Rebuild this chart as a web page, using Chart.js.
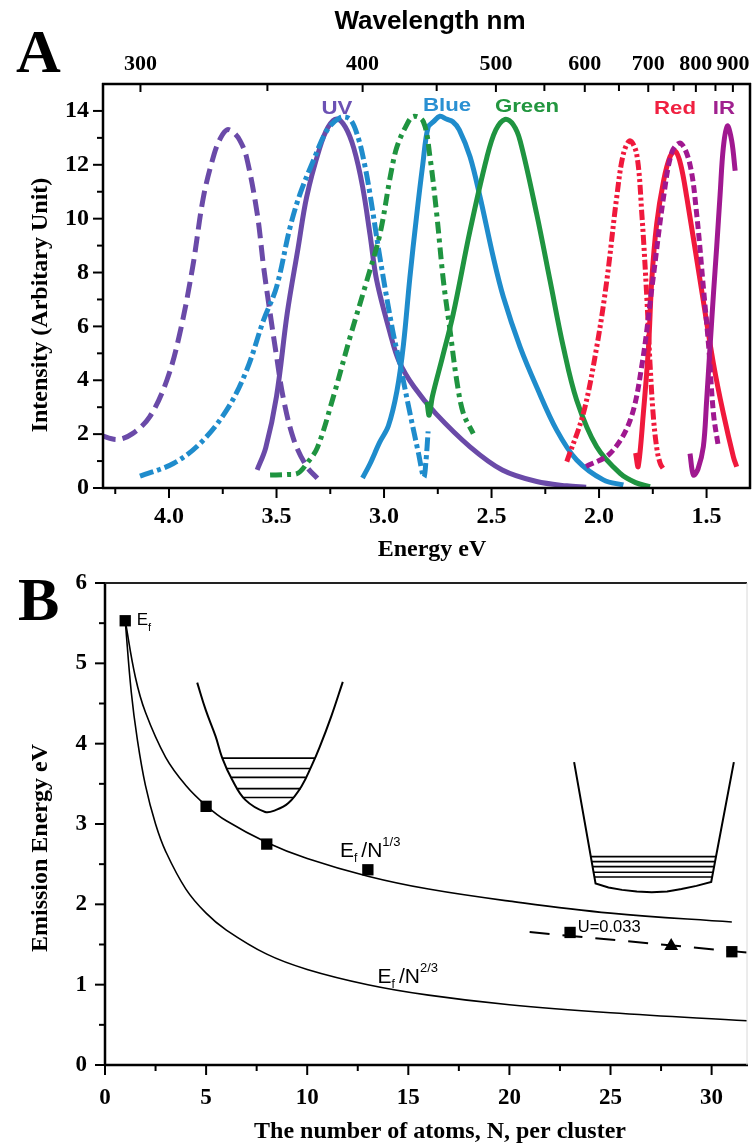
<!DOCTYPE html>
<html>
<head>
<meta charset="utf-8">
<script src="https://cdn.jsdelivr.net/npm/chart.js@4.4.1/dist/chart.umd.min.js"></script>
<style>
  html, body { margin: 0; padding: 0; background: #fff; }
  #wrap { position: relative; width: 755px; height: 1146px; overflow: hidden; background: #fff; }
  canvas { position: absolute; left: 0; }
  #cA { top: 0; }
  #cB { top: 565px; }
</style>
</head>
<body>
<div id="wrap">
  <canvas id="cA" width="755" height="565"></canvas>
  <canvas id="cB" width="755" height="581"></canvas>
</div>
<script>
// ---------- Panel A: excitation (dashed) and emission (solid) spectra ----------
// photon energy in eV, intensity in arbitrary units
const uvExcE = [4.32, 4.24, 4.17, 4.09, 4.01, 3.95, 3.89, 3.84, 3.79, 3.76, 3.73, 3.70, 3.67, 3.64, 3.59, 3.56, 3.53, 3.50, 3.47, 3.42, 3.36, 3.31];
const uvExcI = [1.96, 1.80, 2.02, 2.64, 4.00, 5.73, 8.20, 10.8, 12.4, 13.0, 13.3, 13.2, 12.9, 12.3, 10.2, 8.2, 6.5, 4.9, 3.4, 1.8, 0.8, 0.36];
const uvEmE = [3.59, 3.55, 3.50, 3.45, 3.40, 3.36, 3.30, 3.26, 3.22, 3.18, 3.14, 3.10, 3.065, 3.034, 2.97, 2.93, 2.86, 2.76, 2.60, 2.45, 2.29, 2.15, 2.06];
const uvEmI = [0.67, 1.5, 3.4, 6.5, 8.9, 10.8, 12.6, 13.4, 13.7, 13.4, 12.6, 11.2, 9.4, 7.7, 5.7, 4.7, 3.75, 2.77, 1.53, 0.67, 0.24, 0.08, 0.03];

const blueExcE = [4.135, 3.98, 3.856, 3.732, 3.639, 3.561, 3.50, 3.437, 3.391, 3.329, 3.267, 3.205, 3.158, 3.12, 3.09, 3.065, 3.02, 2.96, 2.926, 2.88, 2.84, 2.815, 2.805, 2.795];
const blueExcI = [0.44, 0.91, 1.65, 2.89, 4.37, 6.22, 7.46, 9.68, 10.91, 12.15, 13.26, 13.75, 13.69, 13.0, 12.0, 10.9, 8.6, 5.85, 4.6, 2.8, 1.3, 0.4, 1.0, 2.1];
const blueEmE = [3.10, 3.065, 3.02, 2.98, 2.94, 2.91, 2.88, 2.85, 2.82, 2.795, 2.77, 2.74, 2.71, 2.68, 2.65, 2.60, 2.553, 2.492, 2.445, 2.367, 2.29, 2.197, 2.104, 1.98, 1.887];
const blueEmI = [0.37, 0.9, 1.7, 2.3, 3.6, 5.3, 7.8, 10.0, 12.0, 13.4, 13.6, 13.8, 13.7, 13.6, 13.3, 12.3, 10.79, 8.57, 7.09, 5.23, 3.75, 2.15, 1.04, 0.30, 0.11];

const greenExcE = [3.53, 3.45, 3.40, 3.36, 3.31, 3.236, 3.158, 3.08, 3.019, 2.97, 2.941, 2.90, 2.864, 2.817, 2.786, 2.755, 2.724, 2.693, 2.662, 2.631, 2.585];
const greenExcI = [0.48, 0.5, 0.55, 0.9, 1.5, 3.38, 5.6, 7.7, 9.43, 11.6, 12.64, 13.4, 13.8, 13.6, 12.27, 10.17, 7.7, 5.85, 4.0, 2.77, 2.02];
const greenEmE = [2.80, 2.79, 2.775, 2.73, 2.678, 2.60, 2.522, 2.48, 2.437, 2.40, 2.367, 2.29, 2.228, 2.166, 2.104, 2.011, 1.902, 1.83, 1.763];
const greenEmI = [3.2, 2.7, 3.4, 4.8, 6.47, 9.56, 12.27, 13.3, 13.69, 13.5, 12.89, 10.17, 7.7, 5.23, 3.26, 1.53, 0.54, 0.2, 0.05];

const redExcE = [2.15, 2.073, 2.011, 1.964, 1.918, 1.887, 1.856, 1.825, 1.801, 1.778, 1.763, 1.747, 1.73, 1.715, 1.70];
const redExcI = [0.98, 2.77, 5.23, 7.7, 10.79, 12.4, 12.89, 12.4, 10.17, 7.09, 4.62, 2.6, 1.4, 0.9, 0.7];
const redEmE = [1.83, 1.818, 1.794, 1.77, 1.755, 1.732, 1.70, 1.67, 1.645, 1.62, 1.592, 1.53, 1.468, 1.422, 1.375, 1.36];
const redEmI = [1.3, 0.8, 2.77, 5.23, 7.7, 9.8, 11.4, 12.3, 12.5, 12.0, 10.79, 7.7, 4.62, 2.77, 1.15, 0.79];

const irExcE = [2.06, 1.949, 1.856, 1.80, 1.75, 1.70, 1.66, 1.62, 1.577, 1.546, 1.515, 1.49, 1.468, 1.445];
const irExcI = [0.8, 1.28, 2.5, 4.6, 7.7, 10.8, 12.5, 12.8, 12.0, 10.17, 7.46, 5.23, 2.77, 1.53];
const irEmE = [1.577, 1.561, 1.54, 1.515, 1.50, 1.484, 1.468, 1.453, 1.437, 1.422, 1.403, 1.383, 1.367];
const irEmI = [1.28, 0.48, 0.7, 1.53, 3.2, 5.23, 7.2, 8.94, 10.9, 12.64, 13.44, 12.89, 11.78];

const seriesNames = ['UV', 'Blue', 'Green', 'Red', 'IR'];

// axis ticks, panel A
const energyMajor = [4.0, 3.5, 3.0, 2.5, 2.0, 1.5];
const energyMinor = [4.25, 3.75, 3.25, 2.75, 2.25, 1.75];
const wavelengthMajor = [300, 400, 500, 600, 700, 800, 900];
const wavelengthMinor = [350, 450, 550, 650, 750, 850];
const intensityMajor = [0, 2, 4, 6, 8, 10, 12, 14];
const intensityMinor = [1, 3, 5, 7, 9, 11, 13];

// ---------- Panel B: emission energy vs cluster size ----------
const squareN = [1, 5, 8, 13, 23, 31];
const squareE = [5.53, 3.22, 2.75, 2.43, 1.65, 1.41];
const triangleN = [28];
const triangleE = [1.48];
const thirdN = [1, 1.5, 2, 3, 4, 5, 6, 8, 10, 13, 16, 20, 25, 31];
const thirdE = [5.53, 4.83, 4.39, 3.83, 3.48, 3.23, 3.04, 2.77, 2.57, 2.35, 2.19, 2.04, 1.89, 1.78];
const twoThirdN = [1, 1.3, 1.6, 2, 2.5, 3, 4, 5, 6, 8, 10, 13, 16, 20, 25, 31.75];
const twoThirdE = [5.53, 4.64, 4.05, 3.48, 3.0, 2.66, 2.19, 1.89, 1.68, 1.38, 1.19, 1.00, 0.87, 0.75, 0.65, 0.55];
const fitN = [21, 31.75];
const fitE = [1.655, 1.40];

// level-diagram sketches (harmonic well and flat-bottom well)
const harmonicN = [4.56, 4.98, 5.47, 5.80, 6.29, 6.94, 7.92, 8.41, 9.07, 9.72, 10.21, 10.62, 11.19, 11.76];
const harmonicE = [4.76, 4.42, 4.09, 3.82, 3.55, 3.30, 3.15, 3.17, 3.26, 3.47, 3.72, 3.96, 4.34, 4.77];
const harmonicLevelE = [3.82, 3.69, 3.58, 3.44, 3.33];
const harmonicLevelLo = [5.80, 6.03, 6.24, 6.55, 6.85];
const harmonicLevelHi = [10.38, 10.15, 9.93, 9.68, 9.30];
const boxN = [23.2, 24.26, 24.9, 25.57, 26.3, 27.04, 27.8, 28.51, 29.25, 29.98, 31.1];
const boxE = [3.77, 2.26, 2.21, 2.18, 2.16, 2.15, 2.16, 2.19, 2.23, 2.28, 3.77];
const boxLevelE = [2.594, 2.532, 2.47, 2.40, 2.34];
const boxLevelLo = [24.03, 24.07, 24.11, 24.16, 24.2];
const boxLevelHi = [30.22, 30.17, 30.12, 30.07, 30.03];

// axis ticks, panel B
const atomsMajor = [0, 5, 10, 15, 20, 25, 30];
const atomsMinor = [2.5, 7.5, 12.5, 17.5, 22.5, 27.5];
const emissionMajor = [0, 1, 2, 3, 4, 5, 6];
const emissionMinor = [0.5, 1.5, 2.5, 3.5, 4.5, 5.5];

// ---------- helpers ----------
const HC = 1239.84; // eV·nm
const SERIF = '"Liberation Serif", "Times New Roman", serif';
const SANS = '"Liberation Sans", Arial, sans-serif';

const pts = (xs, ys) => xs.map((x, i) => ({ x, y: ys[i] }));
const tickSet = (major, minor) =>
  major.map(v => ({ value: v, major: true }))
    .concat(minor.map(v => ({ value: v, major: false })))
    .sort((a, b) => a.value - b.value);

function drawText(ctx, s, x, y, opt) {
  ctx.save();
  ctx.translate(x, y);
  if (opt.rot) ctx.rotate(opt.rot);
  if (opt.sx) ctx.scale(opt.sx, 1);
  ctx.font = opt.font;
  ctx.fillStyle = opt.color || '#000';
  ctx.textAlign = opt.align || 'left';
  ctx.textBaseline = opt.baseline || 'alphabetic';
  ctx.fillText(s, 0, 0);
  ctx.restore();
}

// text made of runs with sub/superscripts, left-aligned at baseline
function drawRuns(ctx, runs, x, y) {
  ctx.save();
  ctx.fillStyle = '#000';
  ctx.textBaseline = 'alphabetic';
  ctx.textAlign = 'left';
  let cx = x;
  for (const r of runs) {
    ctx.font = r.size + 'px ' + SANS;
    ctx.fillText(r.t, cx, y + (r.dy || 0));
    cx += ctx.measureText(r.t).width + (r.gap || 0);
  }
  ctx.restore();
}

// axis frame and tick marks
function framePlugin(spec) {
  return {
    id: 'frame',
    afterDatasetsDraw(chart) {
      const ctx = chart.ctx, a = chart.chartArea;
      ctx.save();
      ctx.strokeStyle = '#000';
      ctx.lineCap = 'butt';
      for (const t of spec.ticks) {
        const sc = chart.scales[t.id];
        ctx.lineWidth = t.width;
        for (const tk of sc.ticks) {
          const len = tk.major ? t.major : t.minor;
          const p = sc.getPixelForValue(tk.value);
          ctx.beginPath();
          if (t.side === 'left') { ctx.moveTo(a.left, p); ctx.lineTo(a.left - len, p); }
          else if (t.side === 'bottom') { ctx.moveTo(p, a.bottom); ctx.lineTo(p, a.bottom + len); }
          else { ctx.moveTo(p, a.top); ctx.lineTo(p, a.top + len); }
          ctx.stroke();
        }
      }
      for (const b of spec.borders) {
        ctx.strokeStyle = b.color;
        ctx.lineWidth = b.width;
        ctx.beginPath();
        if (b.side === 'left') { ctx.moveTo(a.left, a.top - b.ext); ctx.lineTo(a.left, a.bottom + b.ext); }
        if (b.side === 'right') { ctx.moveTo(a.right, a.top - b.ext); ctx.lineTo(a.right, a.bottom + b.ext); }
        if (b.side === 'top') { ctx.moveTo(a.left - b.ext, a.top); ctx.lineTo(a.right + b.ext, a.top); }
        if (b.side === 'bottom') { ctx.moveTo(a.left - b.ext, a.bottom); ctx.lineTo(a.right + b.ext, a.bottom); }
        ctx.stroke();
      }
      ctx.restore();
    }
  };
}

function fixSize(prop, size) {
  return s => {
    s[prop] = size;
    s.paddingLeft = 0; s.paddingRight = 0; s.paddingTop = 0; s.paddingBottom = 0;
  };
}

const hidden = { display: false, drawTicks: false };
const noBorder = { display: false };

Chart.defaults.font.family = SERIF;

// ---------- Panel A chart ----------
const PURPLE = '#6a4aa8', BLUE = '#1f8ccc', GREEN = '#1f9440', RED = '#f0193c', MAGENTA = '#a01890';

function spectrum(xs, ys, color, dash) {
  return {
    data: pts(xs, ys), borderColor: color, borderWidth: 5, borderDash: dash || [],
    pointRadius: 0, tension: 0.35, fill: false, borderCapStyle: 'butt'
  };
}

const labelSpotsA = [
  { e: 3.219, i: 13.9, color: '#6c52b4' },
  { e: 2.707, i: 14.0, color: '#2a90d2' },
  { e: 2.335, i: 13.97, color: '#22963f' },
  { e: 1.647, i: 13.88, color: '#f02040' },
  { e: 1.419, i: 13.9, color: '#a0208f' }
];

const textPluginA = {
  id: 'textA',
  afterDraw(chart) {
    const ctx = chart.ctx, xs = chart.scales.x, ys = chart.scales.y;
    drawText(ctx, 'A', 16, 72, { font: 'bold 62px ' + SERIF });
    drawText(ctx, 'Wavelength nm', 430, 29, { font: 'bold 26px ' + SANS, align: 'center' });
    drawText(ctx, 'Intensity (Arbitary Unit)', 47, 305, { font: 'bold 24px ' + SERIF, align: 'center', rot: -Math.PI / 2 });
    drawText(ctx, 'Energy eV', 432, 556, { font: 'bold 24px ' + SERIF, align: 'center' });
    seriesNames.forEach((name, k) => {
      const s = labelSpotsA[k];
      drawText(ctx, name, xs.getPixelForValue(s.e), ys.getPixelForValue(s.i),
        { font: 'bold 19px ' + SANS, align: 'center', color: s.color, sx: 1.17 });
    });
  }
};

new Chart(document.getElementById('cA'), {
  type: 'line',
  data: {
    datasets: [
      spectrum(irEmE, irEmI, MAGENTA),
      spectrum(irExcE, irExcI, MAGENTA, [8, 4]),
      spectrum(redEmE, redEmI, RED),
      spectrum(redExcE, redExcI, RED, [10, 3, 3, 3, 3, 3]),
      spectrum(greenEmE, greenEmI, GREEN),
      spectrum(greenExcE, greenExcI, GREEN, [12, 5, 4, 5]),
      spectrum(blueEmE, blueEmI, BLUE),
      spectrum(blueExcE, blueExcI, BLUE, [14, 4, 4, 4]),
      spectrum(uvEmE, uvEmI, PURPLE),
      spectrum(uvExcE, uvExcI, PURPLE, [16, 7])
    ]
  },
  options: {
    responsive: false, animation: false, events: [],
    layout: { padding: { left: 0, right: 5, top: 0, bottom: 0 } },
    plugins: { legend: { display: false }, tooltip: { enabled: false }, title: { display: false } },
    scales: {
      x: {
        type: 'linear', position: 'bottom', min: 1.298, max: 4.307, reverse: true,
        grid: hidden, border: noBorder,
        afterBuildTicks: s => { s.ticks = tickSet(energyMajor, energyMinor); },
        afterFit: fixSize('height', 77),
        ticks: {
          autoSkip: false, maxRotation: 0, padding: 14, color: '#000',
          font: { family: SERIF, size: 24, weight: 'bold' },
          callback: (v, i, t) => t[i].major ? v.toFixed(1) : ''
        }
      },
      xTop: {
        type: 'linear', position: 'top', min: 1.298, max: 4.307, reverse: true,
        grid: hidden, border: noBorder,
        afterBuildTicks: s => {
          s.ticks = wavelengthMajor.map(l => ({ value: HC / l, major: true, nm: l }))
            .concat(wavelengthMinor.map(l => ({ value: HC / l, major: false, nm: l })));
        },
        afterFit: fixSize('height', 84),
        ticks: {
          autoSkip: false, maxRotation: 0, padding: 6, color: '#000',
          font: { family: SERIF, size: 22, weight: 'bold' },
          callback: (v, i, t) => t[i].major ? String(t[i].nm) : ''
        }
      },
      y: {
        type: 'linear', position: 'left', min: 0, max: 15,
        grid: hidden, border: noBorder,
        afterBuildTicks: s => { s.ticks = tickSet(intensityMajor, intensityMinor); },
        afterFit: fixSize('width', 103),
        ticks: {
          autoSkip: false, padding: 14, color: '#000',
          font: { family: SERIF, size: 24, weight: 'bold' },
          callback: (v, i, t) => t[i].major ? String(v) : ''
        }
      }
    }
  },
  plugins: [
    framePlugin({
      ticks: [
        { id: 'y', side: 'left', major: 10, minor: 6, width: 2 },
        { id: 'x', side: 'bottom', major: 10, minor: 6, width: 2 },
        { id: 'xTop', side: 'top', major: 8, minor: 7, width: 2 }
      ],
      borders: [
        { side: 'left', width: 2.5, color: '#000', ext: 1 },
        { side: 'right', width: 2.5, color: '#000', ext: 1 },
        { side: 'top', width: 2.5, color: '#000', ext: 1 },
        { side: 'bottom', width: 2.5, color: '#000', ext: 1 }
      ]
    }),
    textPluginA
  ]
});

// ---------- Panel B chart ----------
function sketchLine(xs, ys, width, tension) {
  return { data: pts(xs, ys), borderColor: '#000', borderWidth: width, pointRadius: 0, tension: tension, fill: false };
}

const levelSets = [];
harmonicLevelE.forEach((e, k) => levelSets.push(sketchLine([harmonicLevelLo[k], harmonicLevelHi[k]], [e, e], 1.6, 0)));
boxLevelE.forEach((e, k) => levelSets.push(sketchLine([boxLevelLo[k], boxLevelHi[k]], [e, e], 1.6, 0)));

const textPluginB = {
  id: 'textB',
  afterDraw(chart) {
    const ctx = chart.ctx, xs = chart.scales.x, ys = chart.scales.y;
    const px = n => xs.getPixelForValue(n), py = e => ys.getPixelForValue(e);
    drawText(ctx, 'B', 18, 55, { font: 'bold 62px ' + SERIF });
    drawText(ctx, 'Emission Energy eV', 47, 283, { font: 'bold 24px ' + SERIF, align: 'center', rot: -Math.PI / 2 });
    drawText(ctx, 'The number of atoms, N, per cluster', 440, 573, { font: 'bold 24px ' + SERIF, align: 'center' });
    drawRuns(ctx, [{ t: 'E', size: 17 }, { t: 'f', size: 11, dy: 6 }], px(1.57), py(5.48));
    drawRuns(ctx, [{ t: 'E', size: 21 }, { t: 'f', size: 12, dy: 5, gap: 4 }, { t: '/N', size: 21 }, { t: '1/3', size: 13, dy: -11 }], px(11.62), py(2.59));
    drawRuns(ctx, [{ t: 'E', size: 21 }, { t: 'f', size: 12, dy: 5, gap: 4 }, { t: '/N', size: 21 }, { t: '2/3', size: 13, dy: -11 }], px(13.48), py(1.02));
    drawRuns(ctx, [{ t: 'U=0.033', size: 16.5 }], px(23.38), py(1.656));
  }
};

new Chart(document.getElementById('cB'), {
  type: 'line',
  data: {
    datasets: [
      { data: pts(squareN, squareE), showLine: false, pointStyle: 'rect', pointRadius: 8, backgroundColor: '#000', borderColor: '#000', borderWidth: 0 },
      { data: pts(triangleN, triangleE), showLine: false, pointStyle: 'triangle', pointRadius: 8, backgroundColor: '#000', borderColor: '#000', borderWidth: 0 },
      { data: pts(fitN, fitE), borderColor: '#000', borderWidth: 2, borderDash: [20, 13], pointRadius: 0, tension: 0, fill: false },
      sketchLine(thirdN, thirdE, 1.6, 0.4),
      sketchLine(twoThirdN, twoThirdE, 1.6, 0.4),
      sketchLine(harmonicN, harmonicE, 2, 0.4),
      sketchLine(boxN, boxE, 2, 0),
      ...levelSets
    ]
  },
  options: {
    responsive: false, animation: false, events: [],
    layout: { padding: { left: 0, right: 2, top: 18, bottom: 0 } },
    plugins: { legend: { display: false }, tooltip: { enabled: false }, title: { display: false } },
    scales: {
      x: {
        type: 'linear', position: 'bottom', min: 0, max: 31.75,
        grid: hidden, border: noBorder,
        afterBuildTicks: s => { s.ticks = tickSet(atomsMajor, atomsMinor); },
        afterFit: fixSize('height', 81),
        ticks: {
          autoSkip: false, maxRotation: 0, padding: 19, color: '#000',
          font: { family: SERIF, size: 23, weight: 'bold' },
          callback: (v, i, t) => t[i].major ? String(v) : ''
        }
      },
      y: {
        type: 'linear', position: 'left', min: 0, max: 6,
        grid: hidden, border: noBorder,
        afterBuildTicks: s => { s.ticks = tickSet(emissionMajor, emissionMinor); },
        afterFit: fixSize('width', 105),
        ticks: {
          autoSkip: false, padding: 18, color: '#000',
          font: { family: SERIF, size: 23, weight: 'bold' },
          callback: (v, i, t) => t[i].major ? String(v) : ''
        }
      }
    }
  },
  plugins: [
    framePlugin({
      ticks: [
        { id: 'y', side: 'left', major: 10, minor: 6, width: 2 },
        { id: 'x', side: 'bottom', major: 10, minor: 6, width: 2 }
      ],
      borders: [
        { side: 'left', width: 2.5, color: '#000', ext: 1 },
        { side: 'bottom', width: 2.5, color: '#000', ext: 1 },
        { side: 'top', width: 2, color: '#222', ext: 0 },
        { side: 'right', width: 1, color: '#d8d8d8', ext: 0 }
      ]
    }),
    textPluginB
  ]
});
</script>
</body>
</html>
